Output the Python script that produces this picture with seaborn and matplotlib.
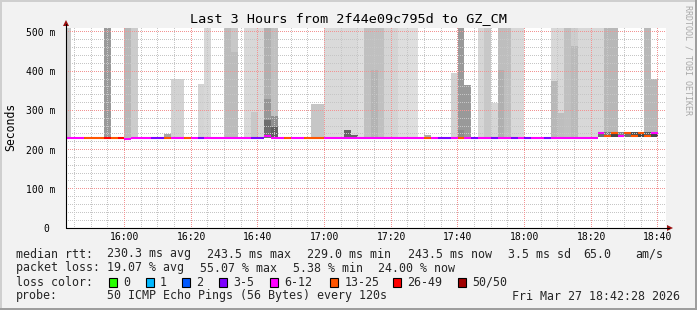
import matplotlib
matplotlib.use("Agg")
import matplotlib.pyplot as plt
import numpy as np
import pandas as pd
import seaborn as sns
from matplotlib.patches import Rectangle, Polygon
from matplotlib.lines import Line2D

# ---------------- data ----------------
title = "Last 3 Hours from 2f44e09c795d to GZ_CM"
first_step = 42          # minutes after 15:00 where the first 2-minute step begins
step_minutes = 2
window = ("15:42:28", "18:42:28")

# outer smoke: top of the grey band above the median (ms), 0 = none, >=510 = off-scale
smoke_top = [520, 0, 0, 0, 0, 0, 520, 0, 0, 520,
             520, 0, 0, 0, 0, 240, 379, 379, 0, 0,
             368, 520, 0, 0, 520, 520, 0, 520, 520, 520,
             520, 520, 0, 0, 0, 0, 0, 316, 316, 520,
             520, 520, 520, 520, 520, 520, 520, 520, 520, 520,
             520, 520, 520, 0, 236, 0, 0, 0, 395, 520,
             365, 0, 520, 520, 320, 520, 520, 520, 520, 0,
             0, 0, 0, 520, 520, 520, 520, 520, 520, 520,
             520, 520, 520, 0, 0, 0, 0, 520, 380]
smoke_grey = [200, 0, 0, 0, 0, 0, 153, 0, 0, 184,
              204, 0, 0, 0, 0, 165, 210, 210, 0, 0,
              212, 215, 0, 0, 188, 200, 0, 216, 216, 216,
              176, 192, 0, 0, 0, 0, 0, 198, 198, 218,
              218, 218, 218, 218, 222, 192, 192, 192, 212, 212,
              222, 222, 222, 0, 170, 0, 0, 0, 210, 153,
              153, 0, 214, 200, 214, 190, 190, 216, 216, 0,
              0, 0, 0, 216, 216, 192, 205, 216, 216, 216,
              216, 184, 184, 0, 0, 0, 0, 184, 184]
# inner smoke band
inner_top = [0, 0, 0, 0, 0, 0, 0, 0, 0, 0,
             0, 0, 0, 0, 0, 0, 0, 0, 0, 0,
             0, 0, 0, 0, 0, 450, 0, 0, 295, 0,
             330, 285, 0, 0, 0, 0, 0, 0, 0, 0,
             0, 0, 0, 0, 0, 0, 403, 0, 0, 0,
             0, 0, 0, 0, 0, 0, 0, 0, 0, 250,
             0, 0, 0, 0, 0, 403, 0, 0, 0, 0,
             0, 0, 0, 375, 294, 0, 465, 0, 0, 0,
             0, 0, 0, 0, 0, 0, 0, 0, 0]
inner_grey = [0, 0, 0, 0, 0, 0, 0, 0, 0, 0,
              0, 0, 0, 0, 0, 0, 0, 0, 0, 0,
              0, 0, 0, 0, 0, 188, 0, 0, 200, 0,
              150, 144, 0, 0, 0, 0, 0, 0, 0, 0,
              0, 0, 0, 0, 0, 0, 180, 0, 0, 0,
              0, 0, 0, 0, 0, 0, 0, 0, 0, 140,
              0, 0, 0, 0, 0, 176, 0, 0, 0, 0,
              0, 0, 0, 184, 190, 0, 186, 0, 0, 0,
              0, 0, 0, 0, 0, 0, 0, 0, 0]
# dense core of the smoke close to the median
core_low = [0] * 30 + [230, 230] + [0] * 10 + [230, 230] + [0] * 36 + \
           [231, 235, 231, 235, 231, 235, 231, 235, 231]
core_high = [0] * 30 + [275, 258] + [0] * 10 + [250, 236] + [0] * 36 + \
            [243, 245, 243, 245, 243, 246, 243, 246, 243]
core_grey = [0] * 30 + [110, 96] + [0] * 10 + [100, 100] + [0] * 36 + \
            [110, 120, 70, 130, 110, 80, 70, 90, 70]

median_rtt = [230] * 9 + [228] + [230] * 20 + [235] + [230] * 49 + \
             [243, 235, 243, 235, 243, 235, 243, 235, 243]
loss_class = [4, 4, 4, 5, 5, 5, 6, 5, 6, 4,
              4, 4, 4, 3, 3, 5, 4, 4, 5, 4,
              3, 4, 4, 4, 4, 4, 4, 4, 3, 3,
              4, 4, 4, 5, 4, 4, 5, 5, 5, 4,
              4, 4, 4, 4, 4, 4, 4, 4, 4, 4,
              4, 4, 4, 4, 5, 4, 3, 3, 4, 5,
              4, 3, 4, 4, 3, 4, 4, 3, 4, 3,
              4, 4, 3, 4, 4, 4, 4, 4, 4, 4,
              4, 5, 5, 4, 5, 5, 5, 5, 4]

loss_labels = ["0", "1", "2", "3-5", "6-12", "13-25", "26-49", "50/50"]
loss_colors = ["#26ff00", "#00b8ff", "#0059ff", "#7e00ff",
               "#ff00ff", "#ff5500", "#ff0000", "#a10000"]

time_labels = ["16:00", "16:20", "16:40", "17:00", "17:20", "17:40",
               "18:00", "18:20", "18:40"]
y_ticks = [0, 100, 200, 300, 400, 500]
y_tick_labels = ["0 ", "100 m", "200 m", "300 m", "400 m", "500 m"]
y_top = 510.2

stats_rtt = [("median rtt:", 16), ("230.3 ms avg", 107), ("243.5 ms max", 207),
             ("229.0 ms min", 307), ("243.5 ms now", 408), ("3.5 ms sd", 508),
             ("65.0", 583), ("am/s", 635)]
stats_loss = [("packet loss:", 16), ("19.07 % avg", 107), ("55.07 % max", 200),
              ("5.38 % min", 293), ("24.00 % now", 378)]
legend_x = [108.5, 145.5, 182, 219, 270, 330, 393, 458]
probe_text = "50 ICMP Echo Pings (56 Bytes) every 120s"
stamp_text = "Fri Mar 27 18:42:28 2026"

# ---------------- figure ----------------
W, H, DPI = 697, 310, 100
AX_L, AX_B, AX_W, AX_H = 66, 228, 600, 200   # canvas placement in pixels
sns.set_theme(style="white")
plt.rcParams['font.family'] = ['DejaVu Sans Mono', 'DejaVu Sans']
BG = "#f2f2f2"
fig = plt.figure(figsize=(W / DPI, H / DPI), dpi=DPI, facecolor=BG)


def fx(x):
    return x / W


def fy(y):
    return 1 - y / H


ax = fig.add_axes([fx(AX_L), fy(AX_B), AX_W / W, AX_H / H], facecolor="white")


def hm(s):
    p = s.split(":")
    return (int(p[0]) - 15) * 60 + int(p[1]) + (int(p[2]) / 60 if len(p) > 2 else 0)


x0, x1 = hm(window[0]), hm(window[1])
n = len(smoke_top)
df = pd.DataFrame({
    "left": first_step + step_minutes * np.arange(n),
    "median": median_rtt, "top": smoke_top, "grey": smoke_grey,
    "itop": inner_top, "igrey": inner_grey,
    "clo": core_low, "chi": core_high, "cgrey": core_grey,
    "loss": loss_class,
})


def g(v):
    return "#%02x%02x%02x" % (v, v, v)


# smoke
for _, r in df.iterrows():
    if r["top"] > 0:
        ax.bar(r["left"], r["top"] - r["median"], bottom=r["median"], width=step_minutes,
               align="edge", color=g(int(r["grey"])), linewidth=0, zorder=1)
    if r["itop"] > 0:
        ax.bar(r["left"], r["itop"] - r["median"], bottom=r["median"], width=step_minutes,
               align="edge", color=g(int(r["igrey"])), linewidth=0, zorder=2)
    if r["chi"] > 0:
        ax.bar(r["left"], r["chi"] - r["clo"], bottom=r["clo"], width=step_minutes,
               align="edge", color=g(int(r["cgrey"])), linewidth=0, zorder=3)

# dotted grid (1px on / 1px off), rendered as a pixel-exact overlay
grid = np.zeros((AX_H, AX_W, 4))
minor_c = np.array([0.78, 0.78, 0.78, 1.0])
major_c = np.array([0.95, 0.58, 0.58, 1.0])
for v in np.arange(20, y_top, 20):
    row = AX_H - 1 - int(np.floor(v / y_top * AX_H))
    c = major_c if v % 100 == 0 else minor_c
    grid[row, ::2] = c
for m in np.arange(45, x1, 5):
    col = int(np.floor((m - x0) / (x1 - x0) * AX_W))
    if 0 <= col < AX_W:
        c = major_c if m % 20 == 0 else minor_c
        grid[::2, col] = c
ax.imshow(grid, extent=(x0, x1, 0, y_top), origin="upper", aspect="auto",
          interpolation="nearest", zorder=4)

# median line coloured by loss
for _, r in df.iterrows():
    ax.hlines(r["median"], r["left"], r["left"] + step_minutes,
              color=loss_colors[int(r["loss"])], lw=1.5, zorder=5, capstyle="butt")

ax.set_xlim(x0, x1)
ax.set_ylim(0, y_top)
for s in ax.spines.values():
    s.set_visible(False)
ax.set_xticks([hm(t) for t in time_labels])
ax.set_xticklabels(time_labels)
ax.set_yticks(y_ticks)
ax.set_yticklabels(y_tick_labels)
ax.tick_params(axis="x", length=0, pad=3.2, labelsize=7, colors="black")
ax.tick_params(axis="y", length=0, pad=7.3, labelsize=7, colors="black")
ax.grid(False)

# axis lines and arrows
fig.add_artist(Line2D([fx(66), fx(669)], [fy(228), fy(228)], color="black", lw=0.8))
fig.add_artist(Line2D([fx(66), fx(66)], [fy(228), fy(24)], color="black", lw=0.8))
arrow_c = "#991111"
fig.add_artist(Polygon([(fx(63), fy(26)), (fx(69), fy(26)), (fx(66), fy(20))],
                       closed=True, color=arrow_c, lw=0))
fig.add_artist(Polygon([(fx(667), fy(225)), (fx(667), fy(231)), (fx(673), fy(228))],
                       closed=True, color=arrow_c, lw=0))

# texts
fig.text(fx(348), fy(19), title, ha="center", va="center", fontsize=9.7, color="black")
fig.text(fx(11), fy(127), "Seconds", rotation=90, ha="center", va="center",
         fontsize=8.3, color="black")
fig.text(fx(688), fy(60), "RRDTOOL / TOBI OETIKER", rotation=270, ha="center",
         va="center", fontsize=6, color="#a8a8a8")

LF = 8.35
for txt, x in stats_rtt:
    fig.text(fx(x), fy(254), txt, ha="left", va="center", fontsize=LF)
for txt, x in stats_loss:
    fig.text(fx(x), fy(268), txt, ha="left", va="center", fontsize=LF)
fig.text(fx(16), fy(282), "loss color:", ha="left", va="center", fontsize=LF)
for lab, col, x in zip(loss_labels, loss_colors, legend_x):
    fig.add_artist(Rectangle((fx(x), fy(286.5)), 8 / W, 9 / H, facecolor=col,
                             edgecolor="black", lw=0.8))
    fig.text(fx(x + 14.5), fy(282), lab, ha="left", va="center", fontsize=LF)
fig.text(fx(16), fy(296), "probe:", ha="left", va="center", fontsize=LF)
fig.text(fx(107), fy(296), probe_text, ha="left", va="center", fontsize=LF)
fig.text(fx(680), fy(296), stamp_text, ha="right", va="center", fontsize=LF)

# frame (3D border)
fig.add_artist(Rectangle((0, 0), 1, 2 / H, color="#9e9e9e", lw=0))
fig.add_artist(Rectangle((1 - 2 / W, 0), 2 / W, 1, color="#9e9e9e", lw=0))
fig.add_artist(Rectangle((0, 1 - 2 / H), 1 - 2 / W, 2 / H, color="#cfcfcf", lw=0))
fig.add_artist(Rectangle((0, 2 / H), 2 / W, 1 - 4 / H, color="#cfcfcf", lw=0))

fig.savefig("out.png", dpi=DPI, facecolor=BG)
